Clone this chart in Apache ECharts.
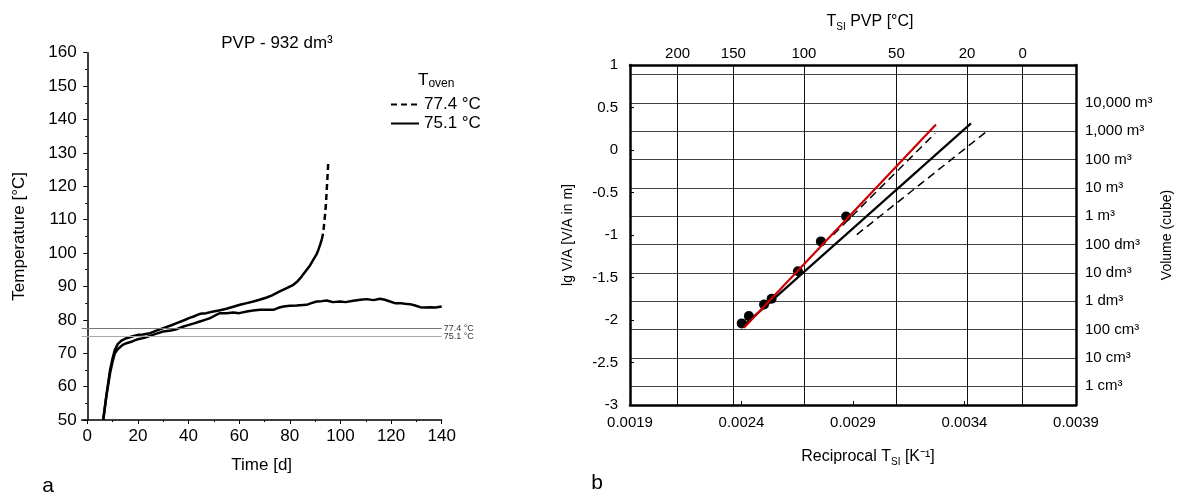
<!DOCTYPE html>
<html><head><meta charset="utf-8">
<script src="https://cdn.jsdelivr.net/npm/echarts@6/dist/echarts.min.js"></script>
<style>html,body{margin:0;padding:0;background:#fff}#c{width:1177px;height:492px}</style>
</head><body><div id="c"></div>
<script>
// ---------- left chart (a) ----------
const timeTicks = [0, 20, 40, 60, 80, 100, 120, 140];
const timeMinorTicks = [10, 30, 50, 70, 90, 110, 130];
const ovenTemps = [77.4, 75.1];
const ovenLabels = ['77.4 °C', '75.1 °C'];
const curve774 = [[6.3,50],[7.5,57],[9,65],[10,68.5],[10.9,71],[12,72.7],[13.5,73.8],[15.5,74.5],[18,75.1],[20,75.5],[22,75.6],[24.8,76],[27,76.7],[30,77.5],[33,78.3],[35.3,79],[38,79.8],[40.2,80.5],[42,81],[44.5,81.8],[47,82],[49.8,82.5],[52,82.8],[55,83.3],[58,84],[60.3,84.5],[63,85],[65.6,85.5],[68,86],[70.9,86.7],[73,87.3],[76,88.5],[79,89.6],[81.4,90.5],[83,91.5],[84.5,92.8],[86.7,95],[88,96.3],[89.3,98],[90.5,99.5],[91.3,101],[92,102.5],[92.6,104]];
const curve774Tail = [[92.6,104],[93.2,106],[93.6,109],[94,112],[94.3,115],[94.6,119],[94.9,123],[95.2,127.5]];
const curve751 = [[6.3,50],[7.5,57],[9,64],[10,67.5],[10.9,70],[12,71.2],[12.9,71.8],[14,72.5],[15.5,73],[18,73.6],[20,74.2],[22.5,74.6],[24.8,75.2],[27,75.8],[30,76.5],[33,76.8],[35.3,77.2],[38,78],[40.2,78.5],[42.5,79],[44.5,79.5],[46.5,80],[48.5,80.5],[50.5,81.3],[52.4,82],[55,82],[57.7,82.2],[60,82],[63,82.5],[65.5,82.8],[68.2,83],[71,83],[73.5,83],[75.5,83.6],[77.5,84],[80,84.2],[82.7,84.3],[86.7,84.5],[88.5,85],[90.6,85.5],[92.5,85.6],[94.6,85.8],[97,85.3],[99.9,85.5],[102,85.3],[105,85.7],[108,86],[110.4,86.2],[113,85.9],[115.7,86.3],[117.5,86],[119.6,85.5],[121.5,85],[123.6,85],[125.5,84.8],[127.5,84.7],[129.5,84.3],[131.5,83.8],[133.5,83.7],[135.4,83.8],[137.5,83.7],[140,84]];

// ---------- right chart (b) ----------
const recipLabelVals = [0.0019, 0.0024, 0.0029, 0.0034, 0.0039];
const recipTickVals = [0.0024, 0.0029, 0.0034];
const topTempsC = [200, 150, 100, 50, 20, 0];
const volLineVals = [0.889, 0.555, 0.222, -0.111, -0.445, -0.778, -1.111, -1.445, -1.778, -2.111, -2.445, -2.778];
const volLabels = ['', '10,000 m³', '1,000 m³', '100 m³', '10 m³', '1 m³', '100 dm³', '10 dm³', '1 dm³', '100 cm³', '10 cm³', '1 cm³'];
const ptsX = [0.002401, 0.002433, 0.002501, 0.002535, 0.002653, 0.002756, 0.002869];
const ptsY = [-2.040, -1.954, -1.817, -1.750, -1.427, -1.075, -0.782];
const redFit = [[0.002411, -2.090], [0.003272, 0.301]];
const blackFit = [[0.002411, -2.063], [0.003429, 0.313]];
const dashA = [[0.002812, -0.996], [0.003268, 0.196]];
const dashB = [[0.002917, -0.996], [0.003507, 0.234]];

const FONT = 'Liberation Sans, Arial, sans-serif';
const topTickVals = topTempsC.map(t => 1 / (t + 273.15));
const near = (arr, v) => arr.findIndex(x => Math.abs(x - v) < 1e-9);

const chart = echarts.init(document.getElementById('c'), null, {renderer: 'canvas'});
const blk = {color: '#000'};
chart.setOption({
  animation: false,
  textStyle: {fontFamily: FONT},
  grid: [
    {left: 81.7, top: 52.7, width: 360, height: 367.3},
    {left: 630, top: 65, width: 446, height: 340}
  ],
  legend: {
    data: ['77.4 °C', '75.1 °C'], orient: 'vertical', left: 385, top: 91,
    itemWidth: 28, itemHeight: 10, itemGap: 2, selectedMode: false,
    itemStyle: {opacity: 0},
    textStyle: {fontSize: 17, color: '#000', fontFamily: FONT}
  },
  xAxis: [
    {gridIndex: 0, type: 'value', position: 'bottom', min: -2.2, max: 140,
     axisLine: {show: true, onZero: false, lineStyle: {color: '#000', width: 1.5}},
     axisTick: {show: true, customValues: timeTicks, length: 4, lineStyle: blk},
     axisLabel: {customValues: timeTicks, fontSize: 17, color: '#000', margin: 8},
     splitLine: {show: false},
     name: 'Time [d]', nameLocation: 'middle', nameGap: 37,
     nameTextStyle: {fontSize: 17, color: '#000'}},
    {gridIndex: 0, type: 'value', position: 'bottom', min: -2.2, max: 140,
     axisLine: {show: false, onZero: false},
     axisTick: {show: true, customValues: timeMinorTicks, length: 2, lineStyle: blk},
     axisLabel: {show: false}, splitLine: {show: false}},
    {gridIndex: 1, type: 'value', position: 'bottom', min: 0.0019, max: 0.0039,
     axisLine: {show: true, onZero: false, lineStyle: {color: '#000', width: 2.5}},
     axisTick: {show: true, inside: true, customValues: recipTickVals, length: 4, lineStyle: blk},
     axisLabel: {customValues: recipLabelVals, formatter: v => v.toFixed(4), fontSize: 15, color: '#000', margin: 10},
     splitLine: {show: false}},
    {gridIndex: 1, type: 'value', position: 'top', min: 0.0019, max: 0.0039,
     axisLine: {show: true, onZero: false, lineStyle: {color: '#000', width: 2.5}},
     axisTick: {show: false, customValues: topTickVals},
     axisLabel: {customValues: topTickVals, formatter: v => String(topTempsC[near(topTickVals, v)]), fontSize: 15, color: '#000', margin: 4},
     splitLine: {show: true, lineStyle: {color: '#111', width: 1}}}
  ],
  yAxis: [
    {gridIndex: 0, type: 'value', min: 50, max: 160, interval: 10,
     axisLine: {show: true, lineStyle: {color: '#000', width: 1.5}},
     axisTick: {show: true, length: 4, lineStyle: blk},
     minorTick: {show: true, splitNumber: 2, length: 2, lineStyle: blk},
     axisLabel: {fontSize: 17, color: '#000', margin: 5},
     splitLine: {show: false},
     name: 'Temperature [°C]', nameLocation: 'middle', nameGap: 54,
     nameTextStyle: {fontSize: 17, color: '#000'}},
    {gridIndex: 1, type: 'value', position: 'left', min: -3, max: 1, interval: 0.5,
     axisLine: {show: true, onZero: false, lineStyle: {color: '#000', width: 2.5}},
     axisTick: {show: true, inside: true, length: 4, lineStyle: blk},
     axisLabel: {fontSize: 15, color: '#000', margin: 12},
     splitLine: {show: false},
     name: 'lg V/A [V/A in m]', nameLocation: 'middle', nameGap: 55,
     nameTextStyle: {fontSize: 14, color: '#000'}},
    {gridIndex: 1, type: 'value', position: 'right', min: -3, max: 1,
     axisLine: {show: true, onZero: false, lineStyle: {color: '#000', width: 2.5}},
     axisTick: {show: false, customValues: volLineVals},
     axisLabel: {customValues: volLineVals.slice(1), formatter: v => volLabels[near(volLineVals, v)], fontSize: 15, color: '#000', margin: 9},
     splitLine: {show: true, lineStyle: {color: '#444', width: 1}},
     name: 'Volume (cube)', nameLocation: 'middle', nameRotate: 90, nameGap: 84,
     nameTextStyle: {fontSize: 14, color: '#000'}}
  ],
  series: [
    {name: '77.4 °C', type: 'line', xAxisIndex: 0, yAxisIndex: 0, data: curve774Tail,
     symbol: 'none', showSymbol: false, lineStyle: {color: '#000', width: 2.5, type: [6, 4]}, itemStyle: {color: '#000'}},
    {name: '77.4 °C (early)', type: 'line', xAxisIndex: 0, yAxisIndex: 0, data: curve774,
     symbol: 'none', showSymbol: false, lineStyle: {color: '#000', width: 2.5}},
    {name: '75.1 °C', type: 'line', xAxisIndex: 0, yAxisIndex: 0, data: curve751,
     symbol: 'none', showSymbol: false, lineStyle: {color: '#000', width: 2.5}, itemStyle: {color: '#000'},
     markLine: {silent: true, symbol: ['none', 'none'],
       data: ovenTemps.map((t, i) => ({yAxis: t,
         lineStyle: {color: i === 0 ? '#777' : '#aaa', width: 1, type: 'solid'},
         label: {show: true, position: 'end', formatter: ovenLabels[i], fontSize: 9, color: '#333', distance: 2,
                 padding: i === 0 ? [0, 0, 0, 0] : [10, 0, 0, 0]}}))}},
    {name: 'points', type: 'scatter', xAxisIndex: 2, yAxisIndex: 1,
     data: ptsX.map((x, i) => [x, ptsY[i]]), symbolSize: 10, itemStyle: {color: '#000', opacity: 1}},
    {name: 'dashA', type: 'line', xAxisIndex: 2, yAxisIndex: 1, data: dashA, symbol: 'none',
     lineStyle: {color: '#000', width: 1.5, type: [8, 5]}},
    {name: 'dashB', type: 'line', xAxisIndex: 2, yAxisIndex: 1, data: dashB, symbol: 'none',
     lineStyle: {color: '#000', width: 1.5, type: [8, 5]}},
    {name: 'blackFit', type: 'line', xAxisIndex: 2, yAxisIndex: 1, data: blackFit, symbol: 'none',
     lineStyle: {color: '#000', width: 2.2}},
    {name: 'redFit', type: 'line', xAxisIndex: 2, yAxisIndex: 1, data: redFit, symbol: 'none',
     lineStyle: {color: '#cc0000', width: 2.2}}
  ],
  graphic: [
    {type: 'text', x: 277, y: 43, style: {text: 'PVP - 932 dm³', fontSize: 17, fontFamily: FONT, fill: '#000', align: 'center', verticalAlign: 'middle'}},
    {type: 'text', x: 418, y: 80, style: {text: '{m|T}{s|oven}', align: 'left', verticalAlign: 'middle',
      rich: {m: {fontSize: 17, fontFamily: FONT, fill: '#000', lineHeight: 20, verticalAlign: 'middle'},
             s: {fontSize: 12, fontFamily: FONT, fill: '#000', lineHeight: 12, verticalAlign: 'bottom'}}}},
    {type: 'text', x: 48, y: 486, style: {text: 'a', fontSize: 21, fontFamily: FONT, fill: '#000', align: 'center', verticalAlign: 'middle'}},
    {type: 'text', x: 597, y: 483, style: {text: 'b', fontSize: 21, fontFamily: FONT, fill: '#000', align: 'center', verticalAlign: 'middle'}},
    {type: 'text', x: 870, y: 22, style: {text: '{m|T}{s|SI}{m| PVP [°C]}', align: 'center', verticalAlign: 'middle',
      rich: {m: {fontSize: 16, fontFamily: FONT, fill: '#000', lineHeight: 20, verticalAlign: 'middle'},
             s: {fontSize: 10, fontFamily: FONT, fill: '#000', lineHeight: 11, verticalAlign: 'bottom'}}}},
    {type: 'text', x: 868, y: 457, style: {text: '{m|Reciprocal T}{s|SI}{m| [K⁻¹]}', align: 'center', verticalAlign: 'middle',
      rich: {m: {fontSize: 16, fontFamily: FONT, fill: '#000', lineHeight: 20, verticalAlign: 'middle'},
             s: {fontSize: 10, fontFamily: FONT, fill: '#000', lineHeight: 11, verticalAlign: 'bottom'}}}}
  ]
});
</script></body></html>
